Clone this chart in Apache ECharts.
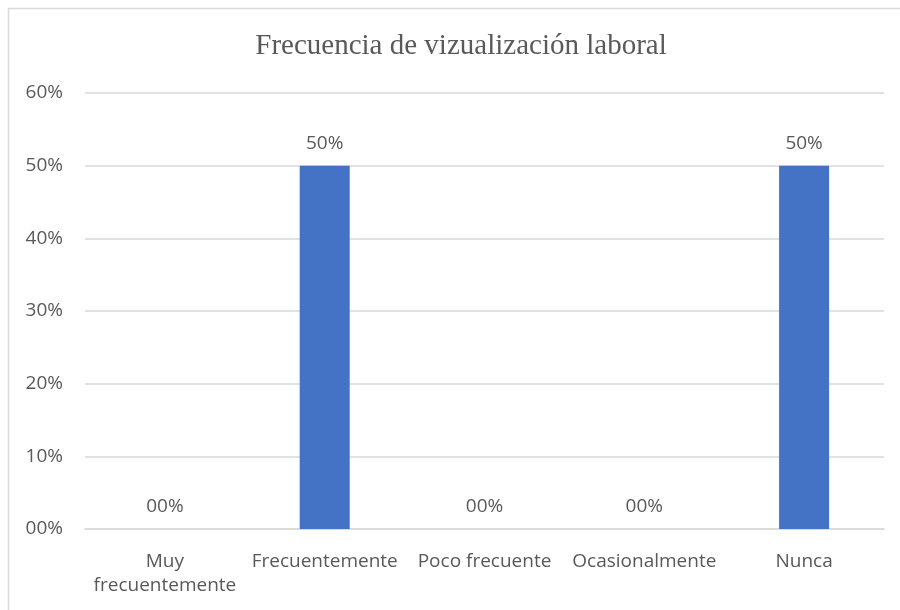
<!DOCTYPE html>
<html>
<head>
<meta charset="utf-8">
<script src="https://cdn.jsdelivr.net/npm/echarts@6/dist/echarts.min.js"></script>
<style>
  html, body { margin: 0; padding: 0; background: #fff; }
  #chart { width: 900px; height: 610px; }
</style>
</head>
<body>
<div id="chart"></div>
<script>
const categories = ["Muy\nfrecuentemente", "Frecuentemente", "Poco frecuente", "Ocasionalmente", "Nunca"];
const values = [0, 50, 0, 0, 50];
const yTicks = [0, 10, 20, 30, 40, 50, 60];

const pct = (v) => String(Math.round(v)).padStart(2, "0") + "%";
const textColor = "#595959";
const sans = "'Open Sans', 'Noto Sans', sans-serif";

const chart = echarts.init(document.getElementById("chart"));

chart.setOption({
  animation: false,
  backgroundColor: "#fff",
  title: {
    text: "Frecuencia de vizualización laboral",
    left: 456,
    top: 27,
    textAlign: "center",
    textStyle: {
      fontFamily: "'Liberation Serif', serif",
      fontWeight: "normal",
      fontSize: 29,
      color: textColor,
    },
  },
  graphic: [
    {
      type: "rect",
      shape: { x: 8.5, y: 8.5, width: 900, height: 610 },
      style: { fill: "none", stroke: "#d9d9d9", lineWidth: 1.5 },
      silent: true,
    },
  ],
  grid: {
    left: 85,
    right: 16,
    top: 93,
    bottom: 81,
  },
  xAxis: {
    type: "category",
    data: categories,
    axisLine: { lineStyle: { color: "#d9d9d9", width: 1.5 } },
    axisTick: { show: false },
    axisLabel: {
      interval: 0,
      color: textColor,
      fontFamily: sans,
      fontSize: 19,
      lineHeight: 24,
      margin: 21,
    },
  },
  yAxis: {
    type: "value",
    min: yTicks[0],
    max: yTicks[yTicks.length - 1],
    interval: 10,
    axisLine: { show: false },
    axisTick: { show: false },
    splitLine: { lineStyle: { color: "#d9d9d9", width: 1.5 } },
    axisLabel: {
      color: textColor,
      fontFamily: sans,
      fontSize: 19,
      margin: 22,
      formatter: (v) => pct(v),
    },
  },
  series: [
    {
      type: "bar",
      data: values,
      barWidth: 50,
      itemStyle: { color: "#4472c4" },
      label: {
        show: true,
        position: "top",
        distance: 13,
        color: textColor,
        fontFamily: sans,
        fontSize: 19,
        formatter: (p) => pct(p.value),
      },
    },
  ],
});
</script>
</body>
</html>
